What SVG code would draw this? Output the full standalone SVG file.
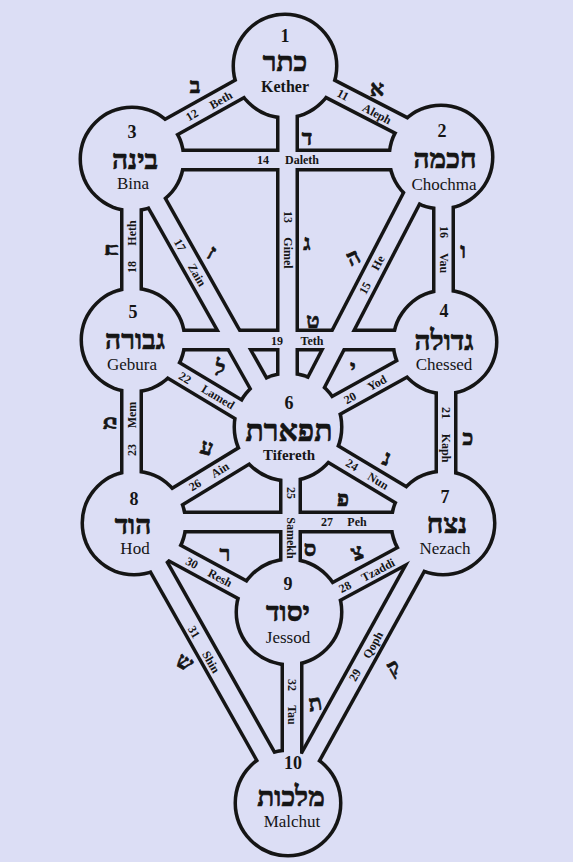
<svg xmlns="http://www.w3.org/2000/svg" xmlns:xlink="http://www.w3.org/1999/xlink" width="573" height="862" viewBox="0 0 573 862">
<style>
.bg{fill:#dcdef5}
.discK{fill:#151515;stroke:#151515;stroke-width:7}
.bandk{stroke:#151515;stroke-width:23;fill:none}
.bandf{stroke:#dcdef5;stroke-width:16;fill:none}
.disc{fill:#dcdef5}
text{font-family:"Liberation Serif","DejaVu Serif",serif;fill:#151515;text-anchor:middle;dominant-baseline:central}
.num{font-size:18px;font-weight:bold}
.heb{font-family:"Liberation Serif","DejaVu Sans",serif;font-size:28px;font-weight:bold;stroke:#151515;stroke-width:0.7}
.nm{font-size:17px}
.lb{font-size:12px;font-weight:bold}
.lt{font-family:"Liberation Serif","DejaVu Sans",serif;font-size:22px;font-weight:bold;stroke:#151515;stroke-width:0.7}
</style>
<defs>
<g id="chans">
<line x1="286" y1="66" x2="443" y2="147"/>
<line x1="286" y1="63" x2="130" y2="150"/>
<line x1="287.5" y1="66" x2="287.5" y2="427"/>
<line x1="132" y1="160" x2="441" y2="160"/>
<line x1="433" y1="157" x2="293" y2="427"/>
<line x1="443.5" y1="157" x2="443.5" y2="342"/>
<line x1="132" y1="159" x2="283" y2="427"/>
<line x1="131.5" y1="159" x2="131.5" y2="340"/>
<line x1="133" y1="340" x2="445" y2="340"/>
<line x1="445" y1="345" x2="288" y2="432"/>
<line x1="446" y1="342" x2="446" y2="523"/>
<line x1="133" y1="346" x2="288" y2="439"/>
<line x1="131.5" y1="340" x2="131.5" y2="523"/>
<line x1="288" y1="427" x2="443" y2="520"/>
<line x1="290.5" y1="427" x2="290.5" y2="612"/>
<line x1="134" y1="523" x2="288" y2="429"/>
<line x1="134" y1="522" x2="443" y2="522"/>
<line x1="443" y1="534" x2="289" y2="617"/>
<line x1="440" y1="523" x2="285" y2="803"/>
<line x1="134" y1="531" x2="289" y2="615"/>
<line x1="134" y1="523" x2="292" y2="803"/>
<line x1="292" y1="612" x2="292" y2="803"/>
</g>
<g id="discs">
<circle cx="285" cy="66" r="50"/>
<circle cx="441" cy="157" r="50"/>
<circle cx="132" cy="159" r="50"/>
<circle cx="445" cy="342" r="50"/>
<circle cx="133" cy="340" r="50"/>
<circle cx="288" cy="427" r="52"/>
<circle cx="443" cy="523" r="50"/>
<circle cx="134" cy="523" r="50"/>
<circle cx="289" cy="612" r="51"/>
<circle cx="288" cy="803" r="51"/>
</g>
</defs>
<rect class="bg" x="0" y="0" width="573" height="862"/>
<g id="outline">
<use xlink:href="#discs" class="discK"/>
<use xlink:href="#chans" class="bandk"/>
</g>
<g id="connectors">
<use xlink:href="#chans" class="bandf"/>
<g id="labels">
<text class="lb" transform="translate(343,95) rotate(28)">11</text>
<text class="lb" transform="translate(377,114) rotate(28)">Aleph</text>
<text class="lb" transform="translate(192,115) rotate(-30)">12</text>
<text class="lb" transform="translate(221,100) rotate(-30)">Beth</text>
<text class="lb" transform="translate(287.5,217) rotate(90)">13</text>
<text class="lb" transform="translate(287.5,253) rotate(90)">Gimel</text>
<text class="lb" x="263" y="160">14</text>
<text class="lb" x="302" y="160">Daleth</text>
<text class="lb" transform="translate(365,288) rotate(-62)">15</text>
<text class="lb" transform="translate(378,263) rotate(-62)">He</text>
<text class="lb" transform="translate(444,232) rotate(90)">16</text>
<text class="lb" transform="translate(444,263) rotate(90)">Vau</text>
<text class="lb" transform="translate(180,245) rotate(60)">17</text>
<text class="lb" transform="translate(197,275) rotate(60)">Zain</text>
<text class="lb" transform="translate(131.5,267) rotate(-90)">18</text>
<text class="lb" transform="translate(131.5,233) rotate(-90)">Heth</text>
<text class="lb" x="277" y="341">19</text>
<text class="lb" x="312" y="341">Teth</text>
<text class="lb" transform="translate(350,398) rotate(-29)">20</text>
<text class="lb" transform="translate(377,383) rotate(-29)">Yod</text>
<text class="lb" transform="translate(446,413) rotate(90)">21</text>
<text class="lb" transform="translate(446,448) rotate(90)">Kaph</text>
<text class="lb" transform="translate(185,378) rotate(31)">22</text>
<text class="lb" transform="translate(218,397) rotate(31)">Lamed</text>
<text class="lb" transform="translate(131.5,450) rotate(-90)">23</text>
<text class="lb" transform="translate(131.5,415) rotate(-90)">Mem</text>
<text class="lb" transform="translate(352,465) rotate(31)">24</text>
<text class="lb" transform="translate(378,481) rotate(31)">Nun</text>
<text class="lb" transform="translate(290.5,493) rotate(90)">25</text>
<text class="lb" transform="translate(290.5,538) rotate(90)">Samekh</text>
<text class="lb" transform="translate(195,485) rotate(-31)">26</text>
<text class="lb" transform="translate(220,470) rotate(-31)">Ain</text>
<text class="lb" x="327" y="522">27</text>
<text class="lb" x="357" y="522">Peh</text>
<text class="lb" transform="translate(345,587) rotate(-28)">28</text>
<text class="lb" transform="translate(378,570) rotate(-28)">Tzaddi</text>
<text class="lb" transform="translate(355,675) rotate(-61)">29</text>
<text class="lb" transform="translate(373,645) rotate(-61)">Qoph</text>
<text class="lb" transform="translate(192,563) rotate(28)">30</text>
<text class="lb" transform="translate(220,578) rotate(28)">Resh</text>
<text class="lb" transform="translate(194,632) rotate(60)">31</text>
<text class="lb" transform="translate(211,662) rotate(60)">Shin</text>
<text class="lb" transform="translate(292,685) rotate(90)">32</text>
<text class="lb" transform="translate(292,715) rotate(90)">Tau</text>
</g>
<g id="letters">
<text class="lt" x="195" y="85">ב</text>
<text class="lt" x="377" y="88">א</text>
<text class="lt" x="307" y="137">ד</text>
<text class="lt" x="307" y="242">ג</text>
<text class="lt" transform="translate(353,257) rotate(-25)">ה</text>
<text class="lt" x="463" y="250">ו</text>
<text class="lt" transform="translate(110,250) rotate(-90)">ח</text>
<text class="lt" transform="translate(212,252) rotate(30)">ז</text>
<text class="lt" x="313" y="320">ט</text>
<text class="lt" transform="translate(220,368) rotate(15)">ל</text>
<text class="lt" x="353" y="367">י</text>
<text class="lt" transform="translate(108,423) rotate(-90)">מ</text>
<text class="lt" transform="translate(207,447) rotate(15)">ע</text>
<text class="lt" x="468" y="437">כ</text>
<text class="lt" transform="translate(387,458) rotate(20)">נ</text>
<text class="lt" x="343" y="498">פ</text>
<text class="lt" x="310" y="548">ס</text>
<text class="lt" transform="translate(357,552) rotate(-20)">צ</text>
<text class="lt" x="225" y="553">ר</text>
<text class="lt" transform="translate(185,662) rotate(30)">ש</text>
<text class="lt" transform="translate(315,703) rotate(-10)">ת</text>
<text class="lt" transform="translate(393,667) rotate(-30)">ק</text>
</g>
</g>
<g id="node-1">
<circle class="disc" cx="285" cy="66" r="50"/>
<text class="num" x="285" y="36">1</text>
<text class="heb" x="285" y="61">כתר</text>
<text class="nm" x="285" y="86" style="font-weight:bold;font-size:16px">Kether</text>
</g>
<g id="node-2">
<circle class="disc" cx="441" cy="157" r="50"/>
<text class="num" x="442" y="131">2</text>
<text class="heb" x="445" y="158">חכמה</text>
<text class="nm" x="444" y="184">Chochma</text>
</g>
<g id="node-3">
<circle class="disc" cx="132" cy="159" r="50"/>
<text class="num" x="132" y="132">3</text>
<text class="heb" x="135" y="159">בינה</text>
<text class="nm" x="133" y="183">Bina</text>
</g>
<g id="node-4">
<circle class="disc" cx="445" cy="342" r="50"/>
<text class="num" x="444" y="311">4</text>
<text class="heb" x="444" y="340">גדולה</text>
<text class="nm" x="444" y="364">Chessed</text>
</g>
<g id="node-5">
<circle class="disc" cx="133" cy="340" r="50"/>
<text class="num" x="133" y="312">5</text>
<text class="heb" x="135" y="339">גבורה</text>
<text class="nm" x="132" y="364">Gebura</text>
</g>
<g id="node-6">
<circle class="disc" cx="288" cy="427" r="52"/>
<text class="num" x="289" y="403">6</text>
<text class="heb" x="289" y="430" style="font-size:30px">תפארת</text>
<text class="nm" x="289" y="455" style="font-weight:bold;font-size:15px">Tifereth</text>
</g>
<g id="node-7">
<circle class="disc" cx="443" cy="523" r="50"/>
<text class="num" x="445" y="497">7</text>
<text class="heb" x="447" y="523">נצח</text>
<text class="nm" x="445" y="548">Nezach</text>
</g>
<g id="node-8">
<circle class="disc" cx="134" cy="523" r="50"/>
<text class="num" x="134" y="499">8</text>
<text class="heb" x="133" y="524">הוד</text>
<text class="nm" x="135" y="548">Hod</text>
</g>
<g id="node-9">
<circle class="disc" cx="289" cy="612" r="51"/>
<text class="num" x="288" y="584">9</text>
<text class="heb" x="288" y="611">יסוד</text>
<text class="nm" x="288" y="637">Jessod</text>
</g>
<g id="node-10">
<circle class="disc" cx="288" cy="803" r="51"/>
<text class="num" x="293" y="763">10</text>
<text class="heb" x="291" y="796">מלכות</text>
<text class="nm" x="292" y="821">Malchut</text>
</g>
</svg>
